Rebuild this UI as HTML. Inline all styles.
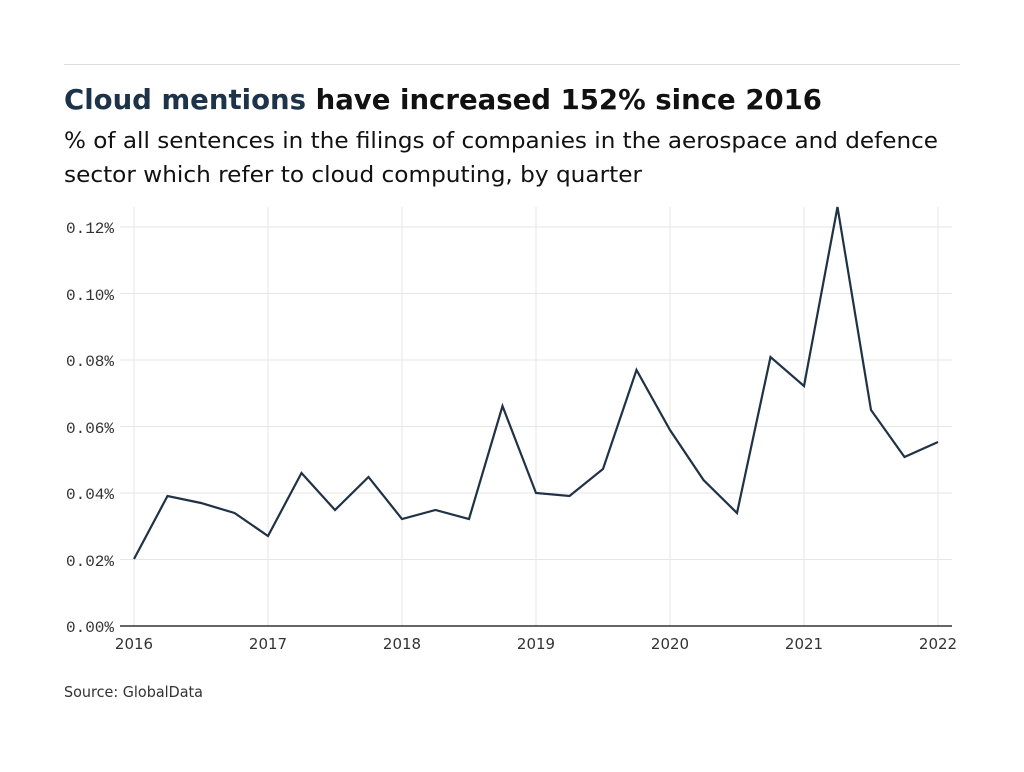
<!DOCTYPE html>
<html><head><meta charset="utf-8"><style>
body{margin:0;background:#fff;width:1024px;height:768px;overflow:hidden;font-family:"DejaVu Sans","Liberation Sans",sans-serif}
</style></head><body>
<svg width="1024" height="768" xmlns="http://www.w3.org/2000/svg" font-family="DejaVu Sans, Liberation Sans, sans-serif">
<line x1="64" y1="64.5" x2="960" y2="64.5" stroke="#ddd" stroke-width="1"/>
<text x="64" y="109" font-size="28" font-weight="bold" fill="#111" textLength="758" lengthAdjust="spacingAndGlyphs"><tspan fill="#1d3349">Cloud mentions</tspan> have increased 152% since 2016</text>
<text x="64" y="148" font-size="22" fill="#111" textLength="874" lengthAdjust="spacingAndGlyphs">% of all sentences in the filings of companies in the aerospace and defence</text>
<text x="64" y="182" font-size="22" fill="#111" textLength="578" lengthAdjust="spacingAndGlyphs">sector which refer to cloud computing, by quarter</text>
<g stroke="#e6e6e6" stroke-width="1">
<line x1="120" y1="227" x2="952" y2="227"/><line x1="120" y1="293.5" x2="952" y2="293.5"/><line x1="120" y1="360" x2="952" y2="360"/><line x1="120" y1="426.5" x2="952" y2="426.5"/><line x1="120" y1="493" x2="952" y2="493"/><line x1="120" y1="559.5" x2="952" y2="559.5"/>
<line x1="134" y1="207" x2="134" y2="626"/><line x1="268" y1="207" x2="268" y2="626"/><line x1="402" y1="207" x2="402" y2="626"/><line x1="536" y1="207" x2="536" y2="626"/><line x1="670" y1="207" x2="670" y2="626"/><line x1="804" y1="207" x2="804" y2="626"/><line x1="938" y1="207" x2="938" y2="626"/>
</g>
<line x1="120" y1="626" x2="952" y2="626" stroke="#333" stroke-width="1.5"/>
<g font-family="Liberation Mono,monospace" font-size="16" fill="#333" text-anchor="end">
<text x="114" y="233">0.12%</text><text x="114" y="300">0.10%</text><text x="114" y="366">0.08%</text><text x="114" y="433">0.06%</text><text x="114" y="499">0.04%</text><text x="114" y="566">0.02%</text><text x="114" y="632">0.00%</text>
</g>
<g font-size="15" fill="#333" text-anchor="middle">
<text x="134" y="649">2016</text><text x="268" y="649">2017</text><text x="402" y="649">2018</text><text x="536" y="649">2019</text><text x="670" y="649">2020</text><text x="804" y="649">2021</text><text x="938" y="649">2022</text>
</g>
<polyline fill="none" stroke="#1f3246" stroke-width="2.2" stroke-linejoin="miter" points="134,559 167.5,496 201,503 234.5,513 268,536 301.5,473 335,510 368.5,477 402,519 435.5,510 469,519 502.5,406 536,493 569.5,496 603,469 636.5,370 670,430 703.5,480 737,513 770.5,357 804,386 837.5,207 871,410 904.5,457 938,442"/>
<text x="64" y="697" font-size="15" fill="#333" textLength="139" lengthAdjust="spacingAndGlyphs">Source: GlobalData</text>
</svg>
</body></html>
